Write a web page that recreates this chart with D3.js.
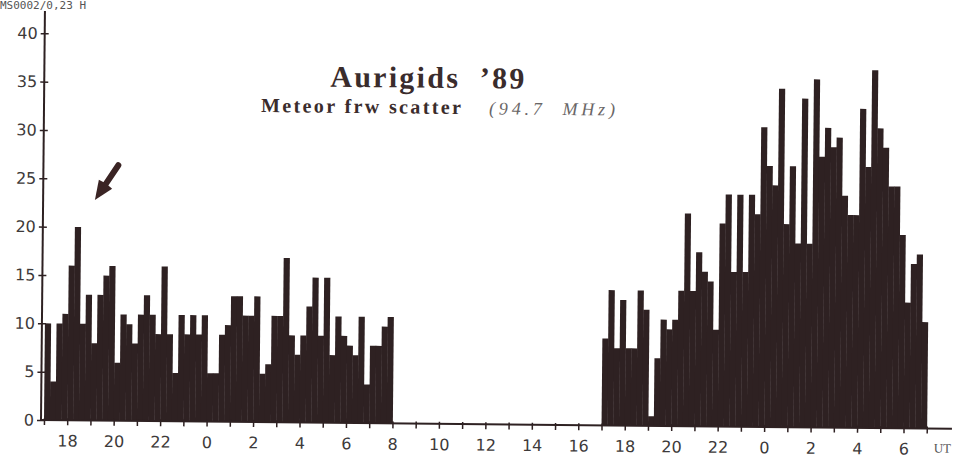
<!DOCTYPE html>
<html>
<head>
<meta charset="utf-8">
<script src="https://cdn.jsdelivr.net/npm/d3@7"></script>
<style>
  body { margin: 0; background: #fff; }
  svg { display: block; }
</style>
</head>
<body>
<script>
// meteor counts per 15 min, first night starts 17:00 UT
const nightOne = [10, 4, 10, 11, 16, 20, 10, 13, 8, 13,
                  15, 16, 6, 11, 10, 8, 11, 13, 11, 9,
                  16, 9, 5, 11, 9, 11, 9, 11, 5, 5,
                  9, 10, 13, 13, 11, 11, 13, 5, 6, 11,
                  11, 17, 9, 7, 9, 12, 15, 9, 15, 7,
                  11, 9, 8, 7, 11, 4, 8, 8, 10, 11];
// second night, also starts 17:00 UT (24 h later)
const nightTwo = [9, 14, 8, 13, 8, 8, 14, 12, 1, 7,
                  11, 10, 11, 14, 22, 14, 18, 16, 15, 10,
                  21, 24, 16, 24, 16, 24, 22, 31, 27, 25,
                  35, 21, 27, 19, 34, 19, 36, 28, 31, 29,
                  30, 24, 22, 22, 33, 27, 37, 31, 29, 25,
                  25, 20, 13, 17, 18, 11];
const nightOffsets = [0, 24];        // hours after the first 17:00 UT
const binHours = 0.25;
const spanHours = 38;                // 17 UT .. 07 UT two days on
const xTickLabels = ['18', '20', '22', '0', '2', '4', '6', '8', '10', '12',
                     '14', '16', '18', '20', '22', '0', '2', '4', '6'];
const yTicks = [0, 5, 10, 15, 20, 25, 30, 35, 40];

const ink = '#2e2122';
const textGrey = '#3d3a3a';

const svg = d3.select('body').append('svg')
  .attr('width', 958)
  .attr('height', 461);

// the scanned page sits a little crooked
const g = svg.append('g').attr('transform', 'rotate(0.55,41,420)');

const x = d3.scaleLinear().domain([0, spanHours]).range([44, 926.8]);
const y = d3.scaleLinear().domain([0, 40]).range([420, 33.3]);

const bars = [];
nightOne.forEach((v, i) => bars.push({h: nightOffsets[0] + i * binHours, v}));
nightTwo.forEach((v, i) => bars.push({h: nightOffsets[1] + i * binHours, v}));

g.selectAll('rect.bar')
  .data(bars)
  .enter().append('rect')
  .attr('class', 'bar')
  .attr('x', d => x(d.h))
  .attr('width', d => x(d.h + binHours) - x(d.h) + 0.4)
  .attr('y', d => y(d.v))
  .attr('height', d => y(0) - y(d.v))
  .attr('fill', ink);

// y axis
const yAxis = g.append('g')
  .attr('transform', 'translate(41,0)')
  .call(d3.axisLeft(y).tickValues(yTicks).tickSize(4).tickPadding(3));
yAxis.select('.domain').remove();
yAxis.selectAll('line').attr('x1', 4).attr('stroke', ink).attr('stroke-width', 1.5);
yAxis.selectAll('text')
  .attr('font-family', 'DejaVu Sans, Verdana, sans-serif')
  .attr('font-size', 16)
  .attr('fill', textGrey);
g.append('line')
  .attr('x1', 41).attr('x2', 41)
  .attr('y1', 11).attr('y2', y(0))
  .attr('stroke', ink).attr('stroke-width', 2);

// x axis
const xAxis = g.append('g')
  .attr('transform', `translate(0,${y(0)})`)
  .call(d3.axisBottom(x)
    .tickValues(d3.range(0, spanHours + 1))
    .tickFormat(h => h % 2 === 1 ? xTickLabels[(h - 1) / 2] : '')
    .tickSize(5)
    .tickPadding(10));
xAxis.select('.domain').remove();
xAxis.selectAll('line').attr('y1', -2).attr('stroke', ink).attr('stroke-width', 1.5);
xAxis.selectAll('text')
  .attr('font-family', 'DejaVu Sans, Verdana, sans-serif')
  .attr('font-size', 16)
  .attr('fill', textGrey);
g.append('line')
  .attr('x1', 41).attr('x2', 952)
  .attr('y1', y(0)).attr('y2', y(0))
  .attr('stroke', ink).attr('stroke-width', 2);

g.append('text')
  .attr('x', 934).attr('y', y(0) + 24)
  .attr('font-family', 'Liberation Serif, Times New Roman, serif')
  .attr('font-size', 13)
  .attr('fill', '#555')
  .text('UT');

// titles
g.append('text')
  .attr('x', 327).attr('y', 84)
  .attr('textLength', 194).attr('lengthAdjust', 'spacing')
  .attr('font-family', 'Liberation Serif, Times New Roman, serif')
  .attr('font-weight', 'bold')
  .attr('font-size', 30)
  .attr('fill', '#3a2c2c')
  .style('white-space', 'pre')
  .text('Aurigids  ’89');

g.append('text')
  .attr('x', 258).attr('y', 110)
  .attr('textLength', 200).attr('lengthAdjust', 'spacing')
  .attr('font-family', 'Liberation Serif, Times New Roman, serif')
  .attr('font-weight', 'bold')
  .attr('font-size', 20)
  .attr('fill', '#3a2c2c')
  .text('Meteor frw scatter');

g.append('text')
  .attr('x', 486).attr('y', 110)
  .attr('textLength', 126).attr('lengthAdjust', 'spacing')
  .attr('font-family', 'Liberation Serif, Times New Roman, serif')
  .attr('font-style', 'italic')
  .attr('font-size', 18)
  .attr('fill', '#6a6666')
  .style('white-space', 'pre')
  .text('(94.7  MHz)');

// page header, cut off by the scan
svg.append('text')
  .attr('x', 0).attr('y', 9)
  .attr('font-family', 'DejaVu Sans Mono, monospace')
  .attr('font-size', 11)
  .attr('fill', '#555')
  .text('MS0002/0,23 H');

// arrow pointing at the 19 UT peak
const tip = [x(2.1), y(22.8)];
const dir = [-0.55, 0.835];
const perp = [0.835, 0.55];
const headLen = 19, headHalf = 8;
const base = [tip[0] - dir[0] * headLen, tip[1] - dir[1] * headLen];
g.append('line')
  .attr('x1', base[0]).attr('y1', base[1])
  .attr('x2', tip[0] - dir[0] * 42).attr('y2', tip[1] - dir[1] * 42)
  .attr('stroke', '#3a2424').attr('stroke-width', 6)
  .attr('stroke-linecap', 'round');
g.append('path')
  .attr('d', `M${tip[0]},${tip[1]}` +
             `L${base[0] + perp[0] * headHalf},${base[1] + perp[1] * headHalf}` +
             `L${base[0] + dir[0] * -1},${base[1] + dir[1] * -1}` +
             `L${base[0] - perp[0] * headHalf},${base[1] - perp[1] * headHalf}Z`)
  .attr('fill', '#3a2424');
</script>
</body>
</html>
